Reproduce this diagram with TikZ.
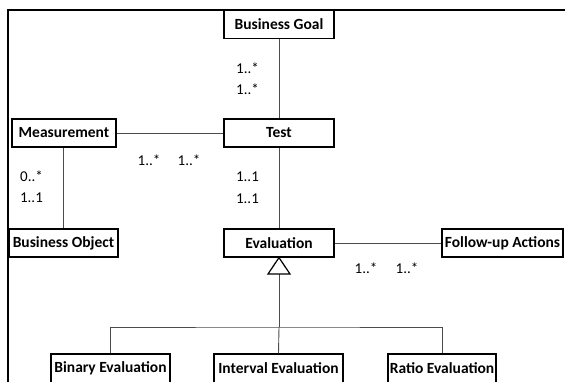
\documentclass[tikz,border=0pt]{standalone}
\usepackage{fontspec}
\setmainfont{Carlito}
\begin{document}
\begin{tikzpicture}[x=1pt,y=-1pt,
  cls/.style={draw=black,line width=1.2pt,fill=white,minimum height=28pt,inner sep=0pt,font=\bfseries\fontsize{15.5}{18}\selectfont},
  mult/.style={inner sep=0pt,font=\fontsize{15}{17}\selectfont},
  conn/.style={draw=black!70,line width=0.9pt},
  frame/.style={draw=black,line width=2pt}]
\useasboundingbox (0,0) rectangle (565,381);
% frame
\draw[frame] (8,382) -- (8,10) -- (566,10);
% classes
\node[cls,minimum width=110pt] (goal) at (279,24.5) {Business Goal};
\node[cls,minimum width=110pt] (test) at (279,133) {Test};
\node[cls,minimum width=104pt] (meas) at (64,133) {Measurement};
\node[cls,minimum width=109pt] (bobj) at (63.5,243) {Business Object};
\node[cls,minimum width=110pt] (eval) at (279,243) {Evaluation};
\node[cls,minimum width=121pt] (follow) at (502.5,243) {Follow-up Actions};
\node[cls,minimum width=119pt,minimum height=29pt] (binary) at (110.5,368.5) {Binary Evaluation};
\node[cls,minimum width=129pt,minimum height=29pt] (interval) at (278.5,368.5) {Interval Evaluation};
\node[cls,minimum width=108pt,minimum height=29pt] (ratio) at (442,368.5) {Ratio Evaluation};
% associations
\draw[conn] (goal.south) -- (test.north);
\draw[conn] (meas.east) -- (test.west);
\draw[conn] (meas.south -| bobj.north) -- (bobj.north);
\draw[conn] (test.south) -- (eval.north);
\draw[conn] (eval.east) -- (follow.west);
% generalization
\coordinate (tribase) at (279,274);
\coordinate (bus) at (279,327);
\draw[conn] (tribase) -- (bus);
\draw[conn] (binary.north) |- (bus) -| (ratio.north);
\draw[conn] (bus) -- (interval.north);
\draw[draw=black,line width=1.2pt,fill=white,line join=miter] (eval.south) -- (268,274) -- (290,274) -- cycle;
% multiplicities
\node[mult] (m1) at (247.5,68) {1..*};
\node[mult] (m2) at (247.5,89) {1..*};
\node[mult] (m3) at (149,160) {1..*};
\node[mult] (m4) at (189,160) {1..*};
\node[mult] (m5) at (31.5,176) {0..*};
\node[mult] (m6) at (31.5,198) {1..1};
\node[mult] (m7) at (247.5,177) {1..1};
\node[mult] (m8) at (247.5,199) {1..1};
\node[mult] (m9) at (366,268) {1..*};
\node[mult] (m10) at (407,268) {1..*};
\end{tikzpicture}
\end{document}
